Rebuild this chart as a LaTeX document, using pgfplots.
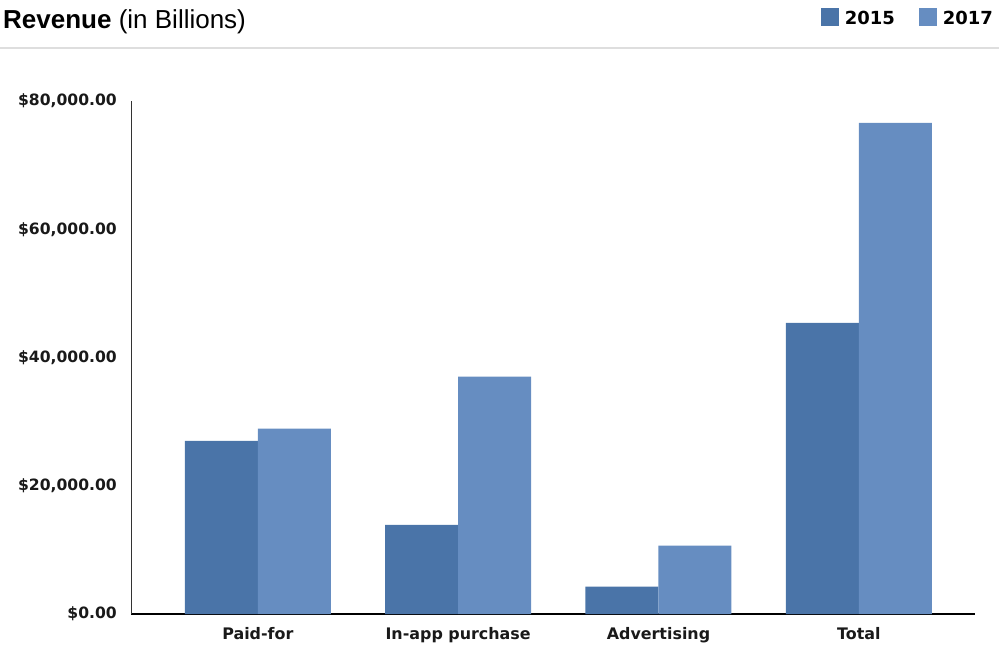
\documentclass[border=0pt]{standalone}
\usepackage{pgfplots}
\pgfplotsset{compat=1.18}
\usepackage{fontspec}
\setmainfont{Liberation Sans}
\newfontfamily\dv{DejaVu Sans}
\definecolor{cA}{HTML}{4A74A8}
\definecolor{cB}{HTML}{668DC1}
\pgfplotsset{sqlegend/.style={legend image code/.code={\fill[##1] (0bp,-8bp) rectangle (18bp,10bp);}}}
\begin{document}
\begin{tikzpicture}
\useasboundingbox (0,0) rectangle (999bp,649bp);
\node[anchor=base west, inner sep=0pt] at (3bp,620bp) {\fontsize{26bp}{30bp}\selectfont\textbf{Revenue} (in Billions)};
\draw[color=black!13, line width=2bp] (0,601bp) -- (999bp,601bp);
\begin{axis}[
  at={(131bp,35bp)}, anchor=south west,
  scale only axis, width=844bp, height=513bp,
  ybar=0pt, bar width=73bp,
  xmin=-0.633, xmax=3.58, ymin=0, ymax=80000,
  scaled ticks=false,
  axis x line*=bottom, axis y line*=left,
  x axis line style={-, line width=1.5bp, black},
  y axis line style={-, line width=1bp, black!80},
  xtick={0,1,2,3},
  xticklabels={Paid-for, In-app purchase, Advertising, Total},
  ytick={0,20000,40000,60000,80000},
  yticklabels={{\$0.00}, {\$20,000.00}, {\$40,000.00}, {\$60,000.00}, {\$80,000.00}},
  major tick length=0pt,
  xticklabel style={anchor=north, inner sep=0pt, yshift=-13.5bp, font=\dv\bfseries\fontsize{15.9bp}{18bp}\selectfont, text=black!90},
  yticklabel style={anchor=east, inner sep=0pt, xshift=-14bp, font=\dv\bfseries\fontsize{15.6bp}{18bp}\selectfont, text=black!90},
  legend columns=2,
  legend style={at={(axis description cs:1.0237,1.181)}, anchor=north east, draw=none, fill=none, inner sep=0pt, outer sep=0pt,
    font=\dv\bfseries\fontsize{18bp}{20bp}\selectfont,
    nodes={inner sep=2bp},
    /tikz/every odd column/.append style={column sep=4bp},
    /tikz/every even column/.append style={column sep=22bp}},
]
\addplot[fill=cA, draw=none, sqlegend] coordinates {(0,27000) (1,13900) (2,4250) (3,45400)};
\addplot[fill=cB, draw=none, sqlegend] coordinates {(0,28900) (1,37000) (2,10650) (3,76600)};
\legend{2015,2017}
\end{axis}
\end{tikzpicture}
\end{document}
